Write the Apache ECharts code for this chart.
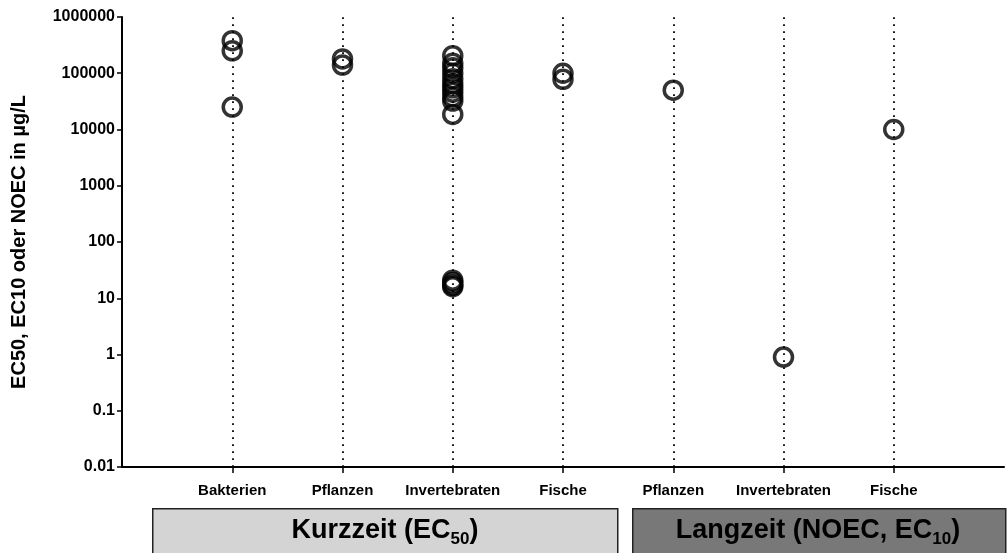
<!DOCTYPE html>
<html>
<head>
<meta charset="utf-8">
<script src="https://cdn.jsdelivr.net/npm/echarts@6/dist/echarts.min.js"></script>
<style>
html,body{margin:0;padding:0;background:#fff;}
#chart{width:1007px;height:553px;}
</style>
</head>
<body>
<div id="chart"></div>
<script>
// ---- data ----
const categories = ['Bakterien', 'Pflanzen', 'Invertebraten', 'Fische', 'Pflanzen', 'Invertebraten', 'Fische'];
const bakterien = [380000, 250000, 25000];
const pflanzenKurz = [180000, 140000];
const invertebratenKurz = [205000, 150000, 125000, 100000, 80000, 65000, 55000, 46000, 38000, 32000, 18500, 21, 19, 17, 16];
const fischeKurz = [100000, 78000];
const pflanzenLang = [50000];
const invertebratenLang = [0.9];
const fischeLang = [10000];
const yTickLabels = ['0.01', '0.1', '1', '10', '100', '1000', '10000', '100000', '1000000'];
const yTitle = 'EC50, EC10 oder NOEC in µg/L';
const groupShort = ['Kurzzeit (EC', '50', ')'];
const groupLong = ['Langzeit (NOEC, EC', '10', ')'];

const groups = [bakterien, pflanzenKurz, invertebratenKurz, fischeKurz, pflanzenLang, invertebratenLang, fischeLang];
const points = [];
groups.forEach((vals, i) => vals.forEach(v => points.push([i + 1, v])));
const catPositions = categories.map((c, i) => i + 1);

const FONT = "'Liberation Sans', Arial, Helvetica, sans-serif";
const chart = echarts.init(document.getElementById('chart'), null, {renderer: 'canvas'});
const richStyle = {
  a: {fontFamily: FONT, fontWeight: 'bold', fontSize: 27, fill: '#000', lineHeight: 34},
  s: {fontFamily: FONT, fontWeight: 'bold', fontSize: 17, fill: '#000', verticalAlign: 'bottom', lineHeight: 20, padding: [14, 0, 0, 0]}
};
chart.setOption({
  animation: false,
  backgroundColor: '#fff',
  grid: {left: 122, right: 3, top: 17, bottom: 86, containLabel: false},
  xAxis: {
    type: 'value', min: 0, max: 8, interval: 1,
    axisLine: {show: true, onZero: false, lineStyle: {color: '#000', width: 2}},
    axisTick: {show: true, length: 6, lineStyle: {color: '#000', width: 1.5}, customValues: catPositions},
    axisLabel: {
      show: true, customValues: catPositions, margin: 16,
      color: '#000', fontFamily: FONT, fontWeight: 'bold', fontSize: 15,
      formatter: v => categories[Math.round(v) - 1] || ''
    },
    splitLine: {show: false}
  },
  yAxis: {
    type: 'log', logBase: 10, min: 0.01, max: 1000000,
    name: yTitle, nameLocation: 'middle', nameGap: 93, nameRotate: 90,
    nameTextStyle: {color: '#000', fontFamily: FONT, fontWeight: 'bold', fontSize: 20},
    axisLine: {show: true, lineStyle: {color: '#000', width: 2}},
    axisTick: {show: true, length: 5, lineStyle: {color: '#000', width: 1.5}},
    axisLabel: {
      color: '#000', fontFamily: FONT, fontWeight: 'bold', fontSize: 16, margin: 7,
      formatter: v => yTickLabels[Math.round(Math.log10(v)) + 2]
    },
    splitLine: {show: false}
  },
  series: [{
    type: 'scatter',
    data: points,
    symbol: 'circle',
    symbolSize: 18,
    itemStyle: {color: 'rgba(0,0,0,0)', borderColor: '#000', borderWidth: 3.5},
    z: 3,
    markLine: {
      silent: true, symbol: 'none', label: {show: false},
      lineStyle: {color: '#000', type: [1.8, 5.2], width: 1.8},
      data: catPositions.map(p => ({xAxis: p}))
    }
  }],
  graphic: [
    {type: 'rect', left: 152, top: 508, shape: {width: 465, height: 60},
     style: {fill: '#d4d4d4', stroke: '#222', lineWidth: 1.5}},
    {type: 'rect', left: 632, top: 508, shape: {width: 373, height: 60},
     style: {fill: '#787878', stroke: '#222', lineWidth: 1.5}},
    {type: 'text', x: 385, y: 531,
     style: {
       text: '{a|' + groupShort[0] + '}{s|' + groupShort[1] + '}{a|' + groupShort[2] + '}',
       align: 'center', verticalAlign: 'middle', rich: richStyle
     }},
    {type: 'text', x: 818, y: 531,
     style: {
       text: '{a|' + groupLong[0] + '}{s|' + groupLong[1] + '}{a|' + groupLong[2] + '}',
       align: 'center', verticalAlign: 'middle', rich: richStyle
     }}
  ]
});
</script>
</body>
</html>
